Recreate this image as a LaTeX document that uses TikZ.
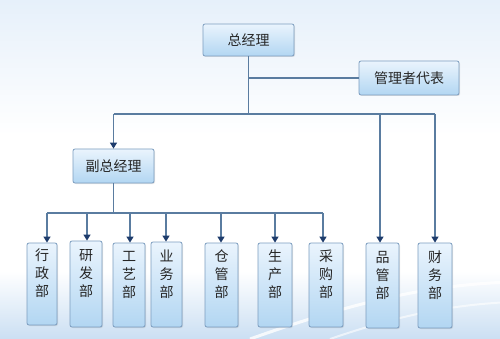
\documentclass[tikz,border=0pt]{standalone}
\usepackage{fontspec}
\setmainfont{Noto Sans CJK SC}
\usepackage{tikz}
\usetikzlibrary{
	arrows.meta,
	positioning,
	calc,
	shadows
}
\usepackage{xcolor}
\definecolor{boxtop}{HTML}{EAF4FD}
\definecolor{boxbot}{HTML}{B2D6F2}
\definecolor{boxline}{HTML}{7C9DBF}
\definecolor{wire}{HTML}{5A7CA0}
\definecolor{tipc}{HTML}{1E3C6C}
\definecolor{bgtop}{HTML}{E6F0FA}
\definecolor{bgbot}{HTML}{CBDFF3}
\pgfdeclareverticalshading{pagebg}{100bp}{
	color(0bp)=(bgbot); color(25bp)=(bgbot); color(35bp)=(white);
	color(55bp)=(white); color(75bp)=(bgtop); color(100bp)=(bgtop)}

\tikzset{
	post/.style={draw=boxline, line width=0.8pt, rounded corners=2pt,
		top color=boxtop, bottom color=boxbot, text=black!85,
		font=\fontsize{14pt}{18pt}\selectfont, inner sep=0pt,
		drop shadow={shadow xshift=1pt, shadow yshift=-1pt, opacity=0.2}},
	dept/.style={post, align=center},
	wire/.style={draw=wire, line width=1.2pt},
	feed/.style={wire, -{Triangle[width=7pt,length=6pt,color=tipc]}}
}

\begin{document}
\begin{tikzpicture}[x=1pt,y=-1pt]
		
		% Background
		\useasboundingbox (0,0) rectangle (500,339);
		\begin{scope}
			\clip (0,0) rectangle (500,339);
			\shade[shading=pagebg] (-10,0) rectangle (510,339);
			\draw[white, line width=3pt, opacity=0.8] (250,339) .. controls (360,300) and (430,285) .. (510,282);
			\draw[white, line width=2pt, opacity=0.6] (330,339) .. controls (400,315) and (450,305) .. (510,302);
		\end{scope}
		
		% Management
		\node[post, minimum width=91pt, minimum height=32pt] (gm) at (248.5,40) {总经理};
		\node[post, minimum width=100pt, minimum height=34pt] (rep) at (409,78) {管理者代表};
		\node[post, minimum width=81pt, minimum height=34pt] (vgm) at (113.5,166) {副总经理};
		
		% Departments
		\foreach \name/\txt/\cx/\cy/\w/\h in {
				xz/行\\政\\部/42/284/30/82,
				yf/研\\发\\部/86/284/32/86,
				gy/工\\艺\\部/129/285/32/84,
				yw/业\\务\\部/166.5/284.5/31/85,
				cg/仓\\管\\部/221.5/285/33/84,
				sc/生\\产\\部/275/285/34/84,
				cq/采\\购\\部/326/285/34/84,
				pg/品\\管\\部/382.5/285.5/33/85,
				cw/财\\务\\部/435/285.5/34/85}
			\node[dept, minimum width=\w pt, minimum height=\h pt] (\name) at (\cx,\cy) {\txt\\[4pt]};
		
		% Bus lines
		\coordinate (busA) at (0,114);
		\coordinate (busB) at (0,213);
		\draw[wire] (gm.south) -- (gm.south |- busA);
		\draw[wire] (gm.south |- rep.west) -- (rep.west);
		\draw[wire] (vgm.north |- busA) -- (cw.north |- busA);
		\draw[feed] (vgm.north |- busA) -- (vgm.north);
		\draw[feed] (380,114) -- (380,0 |- pg.north);
		\draw[feed] (cw.north |- busA) -- (cw.north);
		
		% Second level
		\draw[wire] (vgm.south) -- (vgm.south |- busB);
		\draw[wire] (47,213) -- (323,213);
		\foreach \name/\ax in {xz/47, yf/87, gy/130, yw/166, cg/221, sc/275, cq/323}
			\draw[feed] (\ax,213) -- (\ax,0 |- \name.north);
		
	\end{tikzpicture}
\end{document}
